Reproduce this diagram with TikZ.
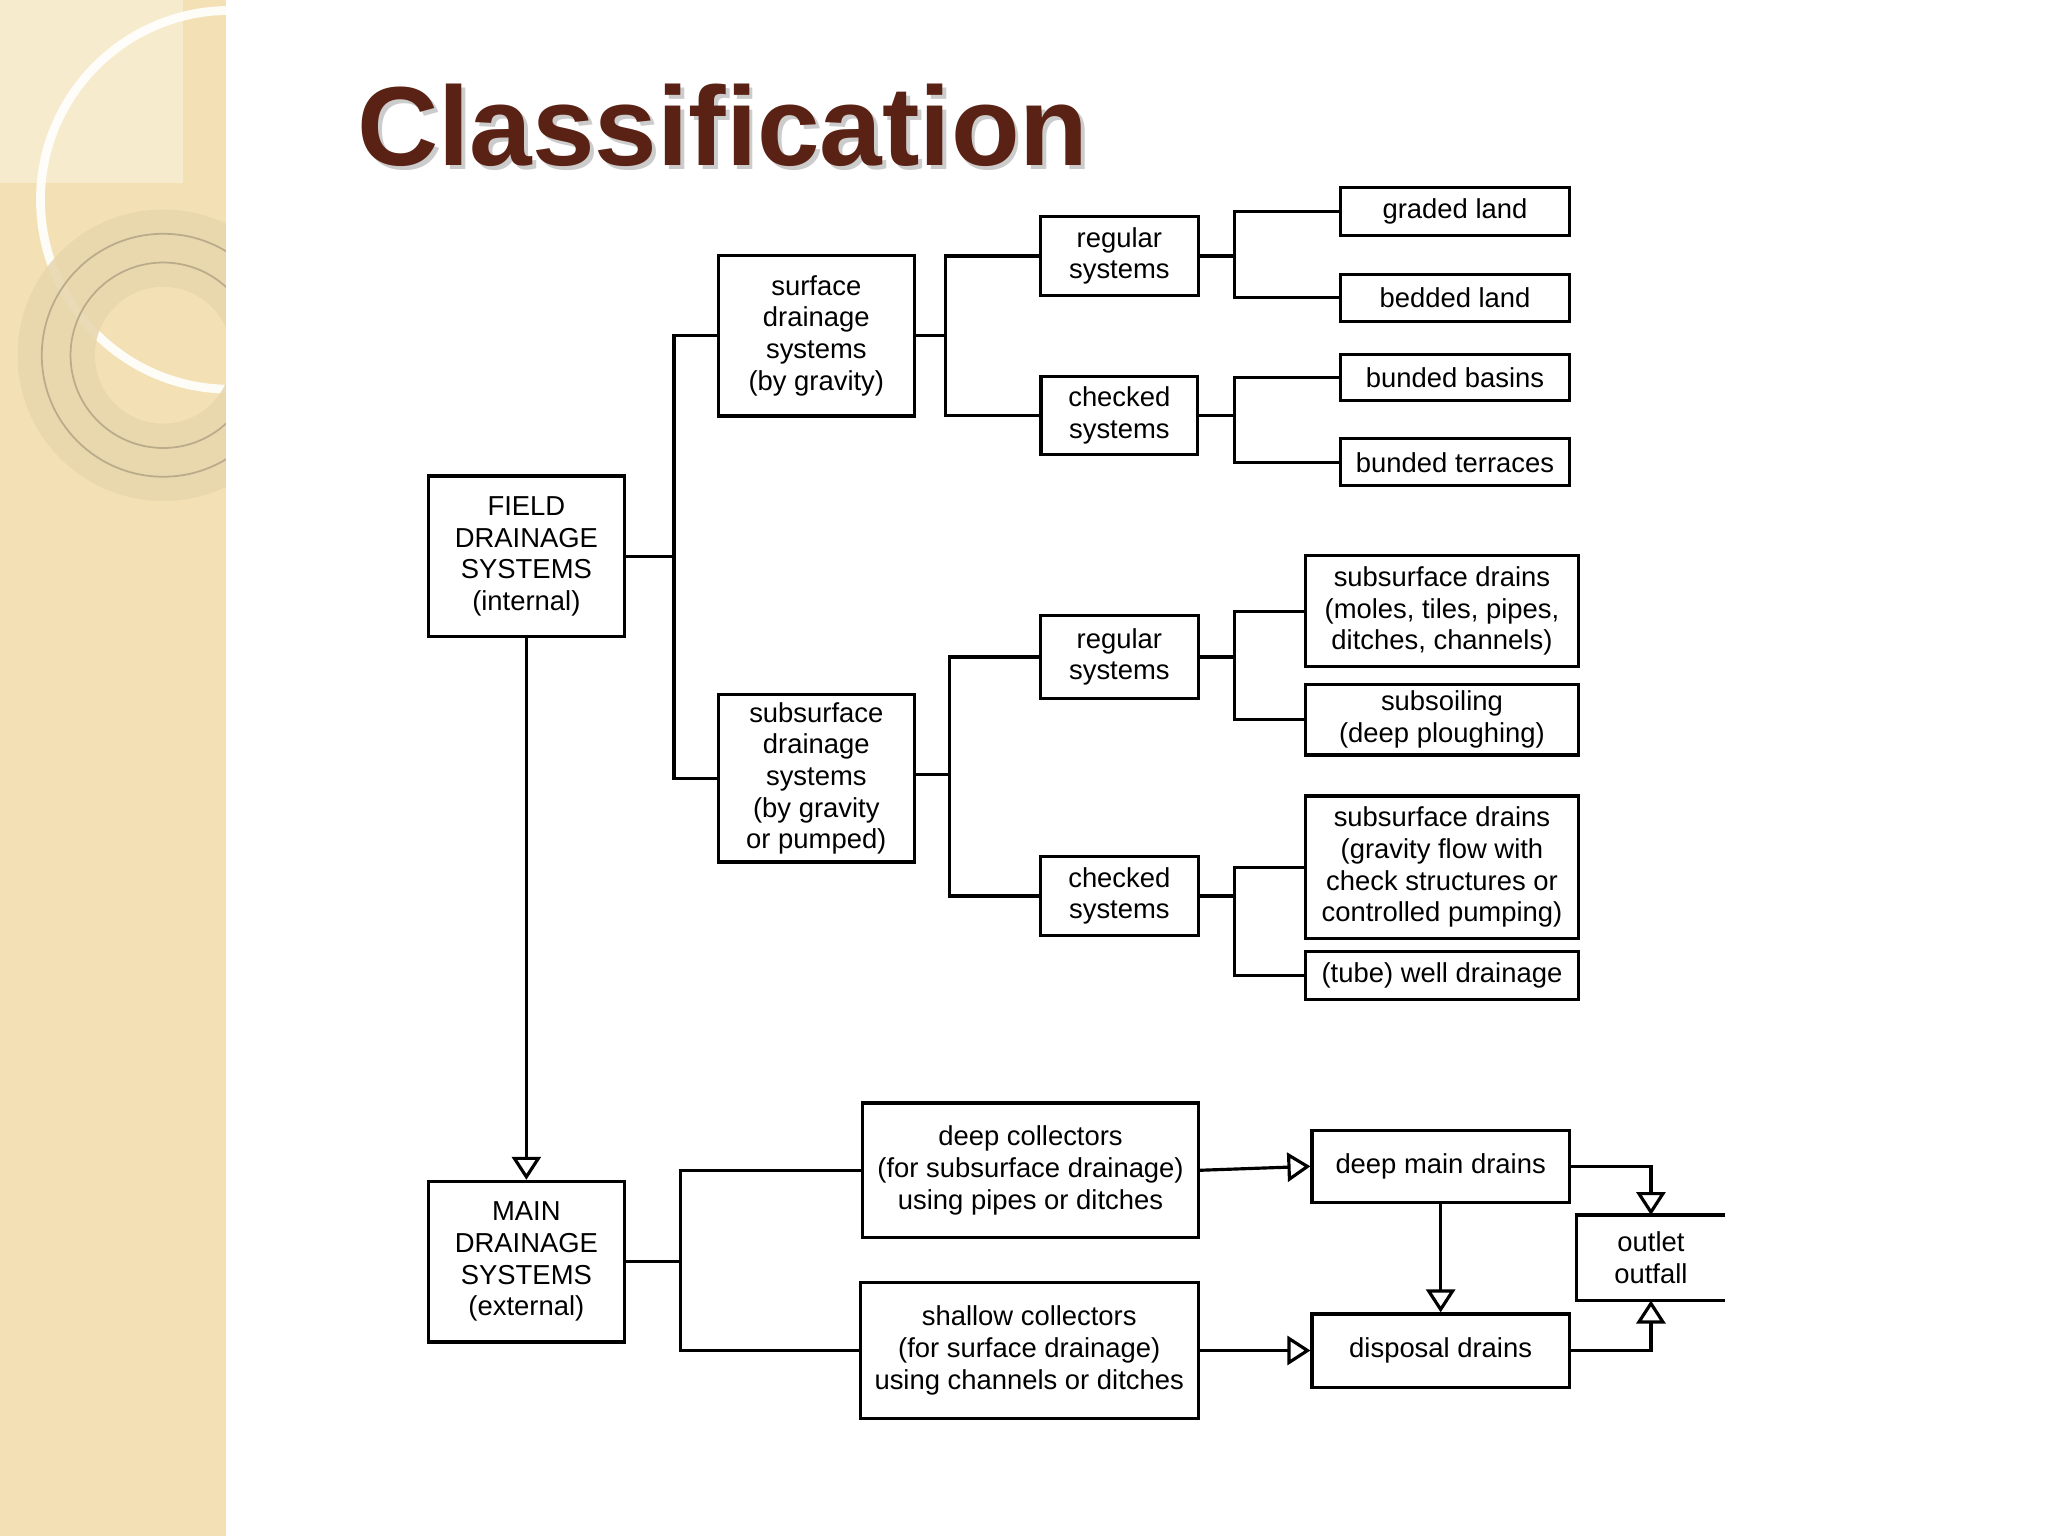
\documentclass[tikz,border=0pt]{standalone}
\usepackage{fontspec}
\setmainfont{Liberation Sans}
\usetikzlibrary{arrows.meta}
\definecolor{side}{HTML}{F3E1B5}
\definecolor{ring}{HTML}{E8D7AE}
\definecolor{title}{HTML}{5A2214}
\begin{document}
\begin{tikzpicture}[x=0.013061cm,y=-0.013061cm,
  box/.style={draw,line width=0.9pt,align=center,inner sep=0pt,font=\fontsize{7.8}{9}\selectfont},
  sz/.style 2 args={minimum width=#1*0.013061cm,minimum height=#2*0.013061cm},
  ln/.style={line width=0.9pt},
  tri/.style={ln,-{Triangle[open,length=0.23cm,width=0.29cm]}}]
\useasboundingbox (0,0) rectangle (1568,1176);
% sidebar
\fill[side] (0,0) rectangle (173,1176);
\begin{scope}
\clip (0,0) rectangle (173,1176);
\fill[white,opacity=0.35] (0,0) rectangle (140,140);
\draw[white,line width=2.5pt,opacity=0.9] (176,153) circle (145);
\draw[ring,line width=22pt,opacity=0.9] (125,272) circle (82);
\draw[ring!80!black,line width=0.5pt] (125,272) circle (93) (125,272) circle (71);
\end{scope}
% title
\node[anchor=west,font=\fontsize{32}{36}\bfseries,text=black!40,opacity=0.5] at (267,99) {Classification};
\node[anchor=west,font=\fontsize{32}{36}\bfseries,text=title] (title) at (264,96) {Classification};
% boxes
\node[box,sz={150}{123}] (field) at (403,426) {FIELD\\DRAINAGE\\SYSTEMS\\(internal)};
\node[box,sz={150}{123}] (main) at (403,966) {MAIN\\DRAINAGE\\SYSTEMS\\(external)};
\node[box,sz={150}{123}] (surf) at (625,257) {surface\\drainage\\systems\\(by gravity)};
\node[box,sz={150}{128}] (sub) at (625,596) {subsurface\\drainage\\systems\\(by gravity\\or pumped)};
\node[box,sz={121}{61}] (reg1) at (857,196) {regular\\systems};
\node[box,sz={120}{60}] (chk1) at (857,318) {checked\\systems};
\node[box,sz={175}{37}] (graded) at (1114,162) {graded land};
\node[box,sz={175}{36}] (bedded) at (1114,228) {bedded land};
\node[box,sz={175}{35}] (basins) at (1114,289) {bunded basins};
\node[box,sz={175}{36}] (terr) at (1114,354) {bunded terraces};
\node[box,sz={121}{63}] (reg2) at (857,503) {regular\\systems};
\node[box,sz={121}{61}] (chk2) at (857,686) {checked\\systems};
\node[box,sz={209}{85}] (sd1) at (1104,468) {subsurface drains\\(moles, tiles, pipes,\\ditches, channels)};
\node[box,sz={209}{54}] (soil) at (1104,551) {subsoiling\\(deep ploughing)};
\node[box,sz={209}{109}] (sd2) at (1104,664) {subsurface drains\\(gravity flow with\\check structures or\\controlled pumping)};
\node[box,sz={209}{37}] (well) at (1104,747) {(tube) well drainage};
\node[box,sz={257}{103}] (deepc) at (789,896) {deep collectors\\(for subsurface drainage)\\using pipes or ditches};
\node[box,sz={259}{104}] (shal) at (788,1034) {shallow collectors\\(for surface drainage)\\using channels or ditches};
\node[box,sz={197}{55}] (dmain) at (1103,893) {deep main drains};
\node[box,sz={197}{56}] (disp) at (1103,1034) {disposal drains};
\node[box,draw=none,sz={111}{63}] (out) at (1264,963) {outlet\\outfall};
\draw[ln] (out.north east) -- (out.north west) -- (out.south west) -- (out.south east);
% connectors
\coordinate (j1) at (516,426);
\draw[ln] (field.east) -- (j1);
\draw[ln] (surf.west) -| (j1);
\draw[ln] (sub.west) -| (j1);
\coordinate (j2) at (724,257);
\draw[ln] (surf.east) -- (j2);
\draw[ln] (reg1.west) -| (j2);
\draw[ln] (chk1.west) -| (j2);
\coordinate (j3) at (945,196);
\draw[ln] (reg1.east) -- (j3);
\draw[ln] (graded.west) -| (j3);
\draw[ln] (bedded.west) -| (j3);
\coordinate (j4) at (945,318);
\draw[ln] (chk1.east) -- (j4);
\draw[ln] (basins.west) -| (j4);
\draw[ln] (terr.west) -| (j4);
\coordinate (j5) at (727,593);
\draw[ln] (sub.east |- j5) -- (j5);
\draw[ln] (reg2.west) -| (j5);
\draw[ln] (chk2.west) -| (j5);
\coordinate (j6) at (945,503);
\draw[ln] (reg2.east) -- (j6);
\draw[ln] (sd1.west) -| (j6);
\draw[ln] (soil.west) -| (j6);
\coordinate (j7) at (945,686);
\draw[ln] (chk2.east) -- (j7);
\draw[ln] (sd2.west) -| (j7);
\draw[ln] (well.west) -| (j7);
\draw[tri] (field.south) -- (main.north);
\coordinate (j8) at (521,966);
\draw[ln] (main.east) -- (j8);
\draw[ln] (deepc.west) -| (j8);
\draw[ln] (shal.west) -| (j8);
\draw[tri] (deepc.east) -- (dmain.west);
\draw[tri] (shal.east) -- (disp.west);
\draw[tri] (dmain.south) -- (disp.north);
\draw[tri] (dmain.east) -| (out.north);
\draw[tri] (disp.east) -| (out.south);
\end{tikzpicture}
\end{document}
